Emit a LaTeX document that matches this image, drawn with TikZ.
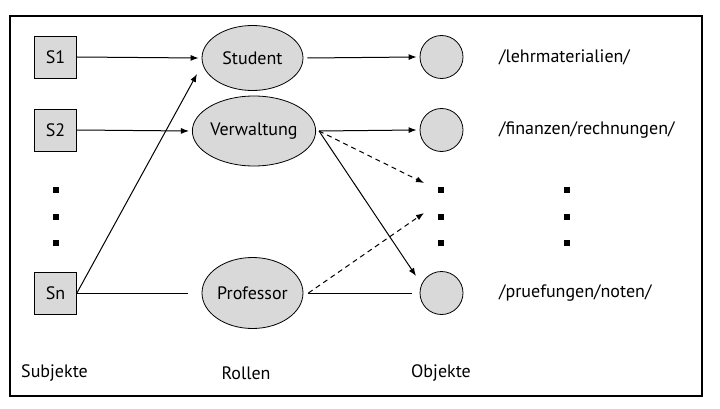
\documentclass[tikz,border=0pt]{standalone}
\usepackage{fontspec}
\setmainfont{PT Sans}
\usetikzlibrary{arrows.meta,shapes.geometric}
\begin{document}
\begin{tikzpicture}[x=1pt,y=-1pt,
  every node/.style={font=\fontsize{18}{21}\selectfont, inner sep=0pt},
  subj/.style={draw, fill=black!15, minimum width=42pt, minimum height=42pt, line width=0.8pt},
  role/.style={draw, fill=black!15, ellipse, line width=0.8pt},
  obj/.style={draw, fill=black!15, circle, minimum size=43pt, line width=0.8pt},
  dotm/.style={fill=black, minimum size=5.5pt, inner sep=0pt},
  conn/.style={line width=1pt},
  arr/.style={conn, -{Latex[length=8pt,width=6pt]}},
  darr/.style={arr, dash pattern=on 5pt off 4pt},
]
\useasboundingbox (0,0) rectangle (720,409);
\draw[line width=1.1pt] (10,16) rectangle (702,396);

\node[subj] (s1) at (55.5,57) {S1};
\node[subj] (s2) at (55.5,130) {S2};
\node[subj] (sn) at (55.5,293) {Sn};
\node[dotm] (d1) at (56,190) {};
\node[dotm] (d2) at (56,217) {};
\node[dotm] (d3) at (56,243) {};

\node[role, minimum width=101pt, minimum height=65pt] (stu) at (252.5,58) {Student};
\node[role, minimum width=104pt, minimum height=70pt] (ver) at (254,131) {Verwaltung};
\node[role, minimum width=101pt, minimum height=71pt] (pro) at (252.5,293) {Professor};

\node[obj] (o1) at (441.5,57) {};
\node[obj] (o2) at (441.5,130) {};
\node[obj] (o3) at (441.5,293) {};
\node[dotm] (e1) at (441,190) {};
\node[dotm] (e2) at (441,217) {};
\node[dotm] (e3) at (441,243) {};
\node[dotm] (f1) at (567,190) {};
\node[dotm] (f2) at (567,217) {};
\node[dotm] (f3) at (567,243) {};

\node[anchor=west] (l1) at (499,57) {/lehrmaterialien/};
\node[anchor=west] (l2) at (499,130) {/finanzen/rechnungen/};
\node[anchor=west] (l3) at (499,293) {/pruefungen/noten/};

\node[anchor=west] (hs) at (21,373) {Subjekte};
\node (hr) at (246,373) {Rollen};
\node (ho) at (441,373) {Objekte};

\coordinate (pin) at (188,293);
\coordinate (pout) at (412,293);
\coordinate (dv) at (424,183);
\coordinate (dp) at (424,213);
\coordinate (o3in) at (416,276);

\draw[arr] (s1.east) -- ([xshift=-3pt]stu.west);
\draw[arr] (s2.east) -- ([xshift=-3pt]ver.west);
\draw[arr] (sn.east) -- (197,74);
\draw[conn] (sn.east) -- (pin);
\draw[conn] ([xshift=5pt]pro.east) -- (pout);
\draw[arr] ([xshift=4pt]stu.east) -- ([xshift=-3pt]o1.west);
\draw[arr] ([xshift=3pt]ver.east) -- ([xshift=-3pt]o2.west);
\draw[arr] ([xshift=3pt]ver.east) -- (o3in);
\draw[darr] ([xshift=3pt]ver.east) -- (dv);
\draw[darr] ([xshift=5pt]pro.east) -- (dp);
\end{tikzpicture}
\end{document}
